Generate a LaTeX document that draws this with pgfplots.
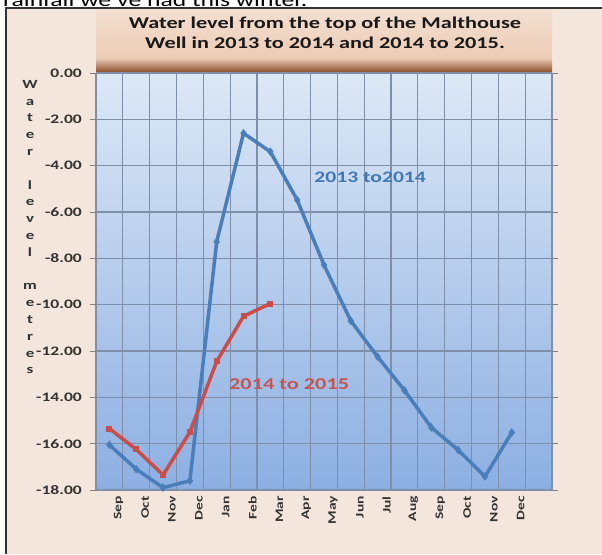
\documentclass[border=0pt]{standalone}
\usepackage{fontspec}
\setmainfont{Carlito}[FakeStretch=1.35]
\usepackage{pgfplots}
\pgfplotsset{compat=1.18}

\definecolor{framebg}{HTML}{F4E6DC}
\definecolor{titletop}{HTML}{F3DFD1}
\definecolor{titlebot}{HTML}{EDCCB5}
\definecolor{bandtop}{HTML}{EBCDB8}
\definecolor{bandbot}{HTML}{7E3D17}
\definecolor{bgtop}{HTML}{DDE8F6}
\definecolor{bgbot}{HTML}{8CAFE2}
\definecolor{gridc}{HTML}{7F8FA9}
\definecolor{serA}{HTML}{4A7EBB}
\definecolor{serB}{HTML}{C94E4A}
\definecolor{labA}{HTML}{3F78B8}
\definecolor{labB}{HTML}{C65450}
\definecolor{ticktext}{HTML}{333333}

% water level (m below top of well), Sep 2013 .. Dec 2014
\pgfplotstableread{
x y
0 -16.05
1 -17.10
2 -17.90
3 -17.60
4 -7.28
5 -2.60
6 -3.40
7 -5.48
8 -8.29
9 -10.70
10 -12.25
11 -13.70
12 -15.30
13 -16.27
14 -17.42
15 -15.52
}\levelA
% Sep 2014 .. Mar 2015
\pgfplotstableread{
x y
0 -15.35
1 -16.25
2 -17.35
3 -15.50
4 -12.45
5 -10.50
6 -9.95
}\levelB

\begin{document}
\begin{tikzpicture}
% chart area
\fill[framebg] (6pt,-8pt) rectangle (602pt,-554pt);
\shade[top color=titletop,bottom color=titlebot] (96pt,-9pt) rectangle (552pt,-58pt);
\shade[top color=bandtop,bottom color=bandbot] (96pt,-58pt) rectangle (552pt,-74pt);
\draw[line width=2pt,black!80] (6pt,-554pt) -- (6pt,-8pt) -- (602pt,-8pt);
\node[anchor=base west,inner sep=0,font=\fontsize{19}{19}\selectfont] at (3pt,-6pt)
  {rainfall we've had this winter.};
\node[align=center,font=\bfseries\fontsize{16.5}{19.5}\selectfont,text=black!90] at (325pt,-33pt)
  {Water level from the top of the Malthouse\\Well in 2013 to 2014 and 2014 to 2015.};
\node[anchor=north,align=center,inner sep=0,text=ticktext,
      font=\bfseries\fontsize{12.5}{16.8}\selectfont] at (30pt,-80pt)
  {W\\a\\t\\e\\r\\~\\l\\e\\v\\e\\l\\~\\m\\e\\t\\r\\e\\s};

\begin{axis}[
  at={(96pt,-490pt)}, anchor=south west,
  scale only axis, width=456pt, height=417pt,
  xmin=-0.5, xmax=16.5, ymin=-18, ymax=0,
  axis background/.style={top color=bgtop,bottom color=bgbot},
  axis line style={draw=gridc,line width=1pt},
  xtick={0,...,15},
  xticklabels={Sep,Oct,Nov,Dec,Jan,Feb,Mar,Apr,May,Jun,Jul,Aug,Sep,Oct,Nov,Dec},
  x tick style={draw=none},
  minor xtick={-0.5,0.5,...,16.5},
  xminorgrids=true,
  minor x grid style={gridc,line width=1.2pt},
  xticklabel style={rotate=90,anchor=east,inner sep=0pt,yshift=-9pt,
    text=ticktext,font=\bfseries\fontsize{11.5}{11.5}\selectfont},
  ytick={-18,-16,...,0},
  ymajorgrids=true,
  major y grid style={gridc,line width=1.2pt},
  tick align=outside,
  major tick length=6pt,
  y tick style={draw=gray,line width=1pt},
  yticklabel style={inner sep=0pt,xshift=-8pt,text=ticktext,
    font=\bfseries\fontsize{13}{13}\selectfont,
    /pgf/number format/fixed,/pgf/number format/fixed zerofill,
    /pgf/number format/precision=2,/pgf/number format/assume math mode=true},
  clip=false,
]
\addplot[serA,line width=3.5pt,mark=diamond*,mark size=3.5pt,
  mark options={line width=1pt}] table[x=x,y=y] {\levelA};
\addplot[serB,line width=3.5pt,mark=square*,mark size=2.5pt,
  mark options={line width=1pt}] table[x=x,y=y] {\levelB};
\node[text=labA,font=\bfseries\fontsize{16}{16}\selectfont] at (axis cs:9.72,-4.5) {2013 to2014};
\node[text=labB,font=\bfseries\fontsize{16.5}{16.5}\selectfont] at (axis cs:6.7,-13.45) {2014 to 2015};
\end{axis}
\pgfresetboundingbox
\useasboundingbox (0pt,0pt) rectangle (602pt,-554pt);
\end{tikzpicture}
\end{document}
